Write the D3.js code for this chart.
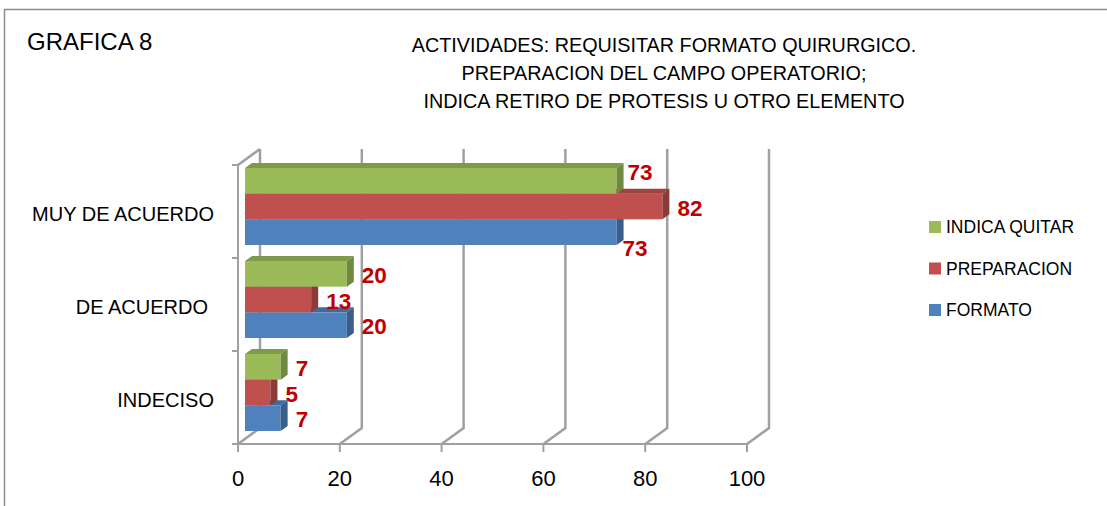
<!DOCTYPE html>
<html>
<head>
<meta charset="utf-8">
<script src="https://cdn.jsdelivr.net/npm/d3@7"></script>
<style>
  body { margin: 0; background: #fff; }
  text { font-family: "Liberation Sans", Arial, sans-serif; }
</style>
</head>
<body>
<div id="chart"></div>
<script>
// Data
var categories = ["MUY DE ACUERDO", "DE ACUERDO", "INDECISO"];
var seriesNames = ["INDICA QUITAR", "PREPARACION", "FORMATO"];
var indicaQuitar = [73, 20, 7];
var preparacion = [82, 13, 5];
var formato = [73, 20, 7];
var xTicks = [0, 20, 40, 60, 80, 100];
var titleLines = ["ACTIVIDADES: REQUISITAR FORMATO QUIRURGICO.",
                  "PREPARACION DEL CAMPO OPERATORIO;",
                  "INDICA RETIRO DE PROTESIS U OTRO ELEMENTO"];

var colors = { "INDICA QUITAR": "#9BBB59", "PREPARACION": "#C0504D", "FORMATO": "#4F81BD" };
var values = { "INDICA QUITAR": indicaQuitar, "PREPARACION": preparacion, "FORMATO": formato };

// Space of graph
var width = 1107,
    height = 506;

var svg = d3.select("#chart")
            .append("svg")
             .attr("width", width)
             .attr("height", height);

// chart border (runs off right / bottom)
svg.append("rect")
   .attr("x", 4.5).attr("y", 9.5)
   .attr("width", 1200).attr("height", 600)
   .attr("fill", "none")
   .attr("stroke", "#8C8C8C")
   .attr("stroke-width", 1.5);

svg.append("text")
   .attr("x", 27).attr("y", 50)
   .attr("font-size", 24)
   .text("GRAFICA 8");

svg.selectAll(".title")
   .data(titleLines)
   .enter()
   .append("text")
    .attr("class", "title")
    .attr("x", 664)
    .attr("y", function(d, i) { return 52 + i * 28; })
    .attr("text-anchor", "middle")
    .attr("font-size", 19.8)
    .text(function(d) { return d; });

// Scales (front plane)
var scaleX = d3.scaleLinear()
               .domain([0, 100])
               .range([238, 747]);

var scaleY = d3.scaleBand()
               .domain(categories)
               .range([165, 444]);

var inner = d3.scaleBand()
              .domain(seriesNames)
              .range([8, scaleY.bandwidth() - 8]);

// depth of the box and of the bars
var depth = { dx: 22, dy: -16 };
var barOff = { dx: 7, dy: -5 };
var barDepth = { dx: 7, dy: -5 };
var grey = "#A0A0A0";

// walls: gridlines on back + floor slants
var grid = svg.append("g")
              .attr("fill", "none")
              .attr("stroke", grey)
              .attr("stroke-width", 2.5);

grid.selectAll(".grid")
    .data(xTicks)
    .enter()
    .append("polyline")
     .attr("points", function(d) {
       var x = scaleX(d);
       return [[x + depth.dx, 165 + depth.dy], [x + depth.dx, 444 + depth.dy], [x, 444]].join(" ");
     });

// left wall top edge
grid.append("line")
    .attr("x1", scaleX(0)).attr("y1", 165)
    .attr("x2", scaleX(0) + depth.dx).attr("y2", 165 + depth.dy);

// axes
var axes = svg.append("g")
              .attr("stroke", grey)
              .attr("stroke-width", 2);

axes.append("line")
    .attr("x1", 232).attr("y1", 444)
    .attr("x2", scaleX(100)).attr("y2", 444);
axes.append("line")
    .attr("x1", scaleX(0)).attr("y1", 165)
    .attr("x2", scaleX(0)).attr("y2", 444);

axes.selectAll(".xtick")
    .data(xTicks)
    .enter()
    .append("line")
     .attr("x1", function(d) { return scaleX(d); })
     .attr("x2", function(d) { return scaleX(d); })
     .attr("y1", 444).attr("y2", 452);

axes.selectAll(".ytick")
    .data(scaleY.range().concat(categories.map(function(c) { return scaleY(c); })))
    .enter()
    .append("line")
     .attr("x1", 232).attr("x2", scaleX(0))
     .attr("y1", function(d) { return d; })
     .attr("y2", function(d) { return d; });

svg.selectAll(".xlabel")
   .data(xTicks)
   .enter()
   .append("text")
    .attr("x", function(d) { return scaleX(d); })
    .attr("y", 486)
    .attr("text-anchor", "middle")
    .attr("font-size", 22)
    .text(function(d) { return d; });

svg.selectAll(".ylabel")
   .data(categories)
   .enter()
   .append("text")
    .attr("x", function(d) { return d == "DE ACUERDO" ? 208 : 214; })
    .attr("y", function(d) { return scaleY(d) + scaleY.bandwidth() / 2 + 9; })
    .attr("text-anchor", "end")
    .attr("font-size", 20)
    .text(function(d) { return d; });

// Bars, bottom series first so upper front faces cover lower tops
var bars = [];
categories.forEach(function(c, i) {
  seriesNames.slice().reverse().forEach(function(s) {
    bars.push({ cat: c, series: s, value: values[s][i] });
  });
});

function geom(d) {
  var x0 = scaleX(0) + barOff.dx,
      x1 = scaleX(d.value) + barOff.dx,
      y0 = scaleY(d.cat) + inner(d.series) + barOff.dy,
      y1 = y0 + inner.bandwidth();
  return { x0: x0, x1: x1, y0: y0, y1: y1 };
}

var barG = svg.selectAll(".bar")
              .data(bars)
              .enter()
              .append("g")
               .attr("class", "bar");

barG.append("rect")
    .attr("x", function(d) { return geom(d).x0; })
    .attr("y", function(d) { return geom(d).y0; })
    .attr("width", function(d) { var g = geom(d); return g.x1 - g.x0; })
    .attr("height", inner.bandwidth())
    .attr("fill", function(d) { return colors[d.series]; });

// top face
barG.append("polygon")
    .attr("points", function(d) {
      var g = geom(d);
      return [[g.x0, g.y0], [g.x0 + barDepth.dx, g.y0 + barDepth.dy],
              [g.x1 + barDepth.dx, g.y0 + barDepth.dy], [g.x1, g.y0]].join(" ");
    })
    .attr("fill", function(d) { return d3.color(colors[d.series]).darker(0.55); });

// right face
barG.append("polygon")
    .attr("points", function(d) {
      var g = geom(d);
      return [[g.x1, g.y0], [g.x1 + barDepth.dx, g.y0 + barDepth.dy],
              [g.x1 + barDepth.dx, g.y1 + barDepth.dy], [g.x1, g.y1]].join(" ");
    })
    .attr("fill", function(d) { return d3.color(colors[d.series]).darker(0.9); });

// Data labels
var labelNudge = {
  "MUY DE ACUERDO|INDICA QUITAR": [-4, -10],
  "MUY DE ACUERDO|FORMATO": [-9, 15]
};

svg.selectAll(".value")
   .data(bars)
   .enter()
   .append("text")
    .attr("x", function(d) {
      var n = labelNudge[d.cat + "|" + d.series] || [0, 0];
      return geom(d).x1 + 15 + n[0];
    })
    .attr("y", function(d) {
      var n = labelNudge[d.cat + "|" + d.series] || [0, 0];
      var g = geom(d);
      return (g.y0 + g.y1) / 2 + 9 + n[1];
    })
    .attr("font-size", 22.5)
    .attr("font-weight", "bold")
    .attr("fill", "#C00000")
    .text(function(d) { return d.value; });

// Legend
var legend = svg.selectAll(".legend")
                .data(seriesNames)
                .enter()
                .append("g")
                 .attr("class", "legend")
                 .attr("transform", function(d, i) { return "translate(929," + (227 + i * 41.5) + ")"; });

legend.append("rect")
      .attr("x", 0).attr("y", -6)
      .attr("width", 12).attr("height", 12)
      .attr("fill", function(d) { return colors[d]; });

legend.append("text")
      .attr("x", 17).attr("y", 6)
      .attr("font-size", 17.5)
      .text(function(d) { return d; });
</script>
</body>
</html>
